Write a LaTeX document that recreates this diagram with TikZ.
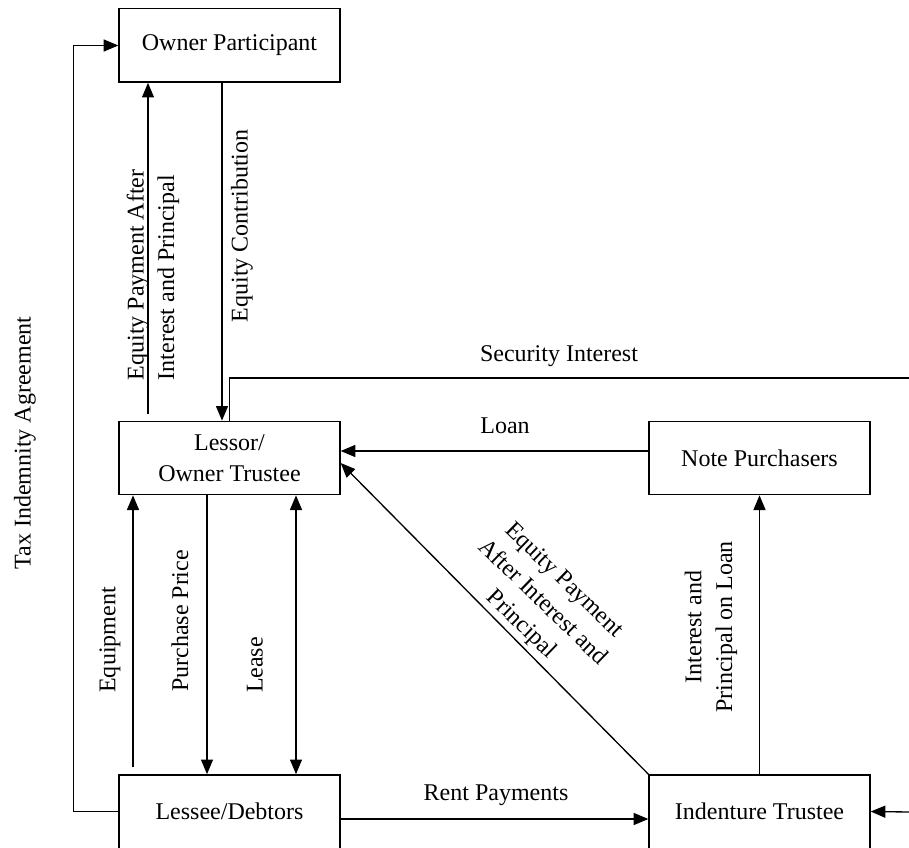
\documentclass[tikz,border=0pt]{standalone}
\usepackage{fontspec}
\setmainfont{Liberation Serif}
\usetikzlibrary{arrows.meta}

\begin{document}
\begin{tikzpicture}[x=0.75pt,y=-0.75pt,font=\fontsize{18}{23}\selectfont,
  party/.style={draw,line width=1pt,minimum width=165.75pt,minimum height=55pt,inner sep=0pt,align=center},
  lbl/.style={inner sep=0pt},
  wire/.style={line width=1pt},
  arr/.style={wire,-{Triangle[length=11pt,width=9pt]}},
  bothways/.style={wire,{Triangle[length=11pt,width=9pt]}-{Triangle[length=11pt,width=9pt]}}]
\useasboundingbox (0,0) rectangle (909,848);

\node[party] (owner) at (229.5,45.5) {Owner Participant};
\node[party] (lessor) at (229.5,458) {Lessor/\\Owner Trustee};
\node[party] (notes) at (759.5,458) {Note Purchasers};
\node[party] (lessee) at (229.5,811.5) {Lessee/Debtors};
\node[party] (indenture) at (759.5,811.5) {Indenture Trustee};

\coordinate (eqPayStart) at (148,414);
\coordinate (equipStart) at (133,767);
\coordinate (secOut) at (909,378);
\coordinate (secIn) at (909,812);

\draw[arr] (lessee.west) -- ++(-45,0) |- (owner.west);
\draw[arr] (eqPayStart) -- (eqPayStart |- owner.south);
\draw[arr] (owner.south -| 222,0) -- (lessor.north -| 222,0);
\draw[wire] (lessor.north) |- (secOut);
\draw[arr] (secIn) -- (indenture.east);
\draw[arr] (notes.west |- 0,451) -- (lessor.east |- 0,451);
\draw[arr] (indenture.north west) -- (lessor.east |- 0,463);
\draw[arr] (equipStart) -- (equipStart |- lessor.south);
\draw[arr] (lessor.south -| 207,0) -- (lessee.north -| 207,0);
\draw[bothways] (lessor.south -| 296,0) -- (lessee.north -| 296,0);
\draw[arr] (lessee.east |- 0,819) -- (indenture.west |- 0,819);
\draw[arr] (indenture.north) -- (notes.south);

\node[lbl,rotate=90] (taxLbl) at (25,443) {Tax Indemnity Agreement};
\node[lbl,rotate=90,align=left] (eqPayLbl) at (153,275) {Equity Payment After\\Interest and Principal};
\node[lbl,rotate=90] (eqContLbl) at (242,226) {Equity Contribution};
\node[lbl,anchor=base] (secLbl) at (559,361) {Security Interest};
\node[lbl,anchor=base] (loanLbl) at (505,433) {Loan};
\node[lbl,rotate=-44,align=center] (eqDiagLbl) at (542,603) {Equity Payment\\After Interest and\\Principal};
\node[lbl,rotate=90] (equipLbl) at (110,640) {Equipment};
\node[lbl,rotate=90] (priceLbl) at (180,621) {Purchase Price};
\node[lbl,rotate=90] (leaseLbl) at (255,665) {Lease};
\node[lbl,rotate=90,align=center] (repayLbl) at (711,627) {Interest and\\Principal on Loan};
\node[lbl,anchor=base] (rentLbl) at (496,800) {Rent Payments};
\end{tikzpicture}
\end{document}
